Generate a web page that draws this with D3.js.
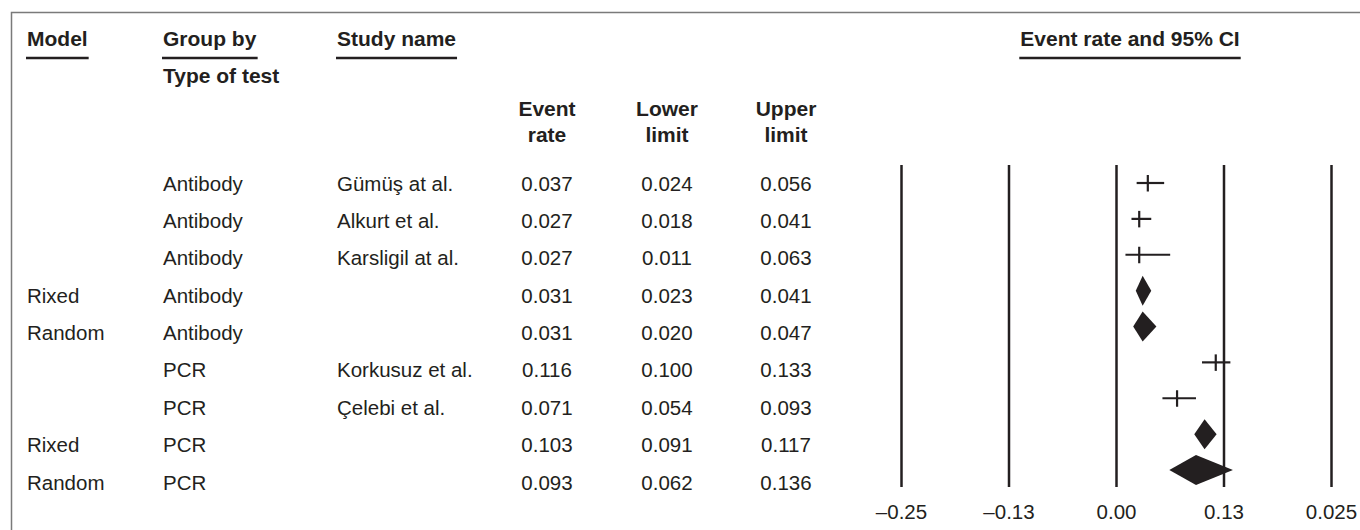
<!DOCTYPE html>
<html>
<head>
<meta charset="utf-8">
<script src="https://cdn.jsdelivr.net/npm/d3@7"></script>
<style>
  body { margin: 0; background: #fff; }
  text { font-family: "Liberation Sans", Arial, Helvetica, sans-serif; fill: #231f20; }
</style>
</head>
<body>
<div id="chart"></div>
<script>
// table rows, top to bottom
const models = ['', '', '', 'Rixed', 'Random', '', '', 'Rixed', 'Random'];
const testTypes = ['Antibody', 'Antibody', 'Antibody', 'Antibody', 'Antibody', 'PCR', 'PCR', 'PCR', 'PCR'];
const studyNames = ['Gümüş at al.', 'Alkurt et al.', 'Karsligil at al.', '', '', 'Korkusuz et al.', 'Çelebi et al.', '', ''];
const eventRates = [0.037, 0.027, 0.027, 0.031, 0.031, 0.116, 0.071, 0.103, 0.093];
const lowerLimits = [0.024, 0.018, 0.011, 0.023, 0.020, 0.100, 0.054, 0.091, 0.062];
const upperLimits = [0.056, 0.041, 0.063, 0.041, 0.047, 0.133, 0.093, 0.117, 0.136];

// axis
const tickValues = [-0.25, -0.125, 0, 0.125, 0.25];
const tickLabels = ['\u20130.25', '\u20130.13', '0.00', '0.13', '0.025'];

const width = 1360, height = 530;
const fs = 20.5, fsBold = 21;
const ink = '#231f20';

const svg = d3.select('#chart').append('svg')
  .attr('width', width)
  .attr('height', height);

// frame (top + left edge)
svg.append('path')
  .attr('d', 'M11.5,530 V12.5 H1360')
  .attr('fill', 'none')
  .attr('stroke', '#7a7a7a')
  .attr('stroke-width', 1.5);

const rows = d3.range(eventRates.length);
const yText = d3.scalePoint().domain(rows).range([183, 482]);
const yMark = d3.scalePoint().domain(rows).range([183, 470]);
const x = d3.scaleLinear().domain([-0.25, 0.25]).range([901, 1331]);
const fmt = d3.format('.3f');

// underlined column headers
const headers = [
  { text: 'Model', x: 27, anchor: 'start' },
  { text: 'Group by', x: 163, anchor: 'start' },
  { text: 'Study name', x: 337, anchor: 'start' },
  { text: 'Event rate and 95% CI', x: 1130, anchor: 'middle' }
];
headers.forEach(h => {
  const t = svg.append('text')
    .attr('x', h.x)
    .attr('y', 46)
    .attr('text-anchor', h.anchor)
    .attr('font-size', fsBold)
    .attr('font-weight', 'bold')
    .text(h.text);
  const bb = t.node().getBBox();
  svg.append('line')
    .attr('x1', bb.x - 1).attr('x2', bb.x + bb.width + 1)
    .attr('y1', 58).attr('y2', 58)
    .attr('stroke', ink).attr('stroke-width', 2.5);
});

svg.append('text')
  .attr('x', 163).attr('y', 83)
  .attr('font-size', fsBold).attr('font-weight', 'bold')
  .text('Type of test');

const numCols = [
  { x: 547, lines: ['Event', 'rate'], values: eventRates },
  { x: 667, lines: ['Lower', 'limit'], values: lowerLimits },
  { x: 786, lines: ['Upper', 'limit'], values: upperLimits }
];
numCols.forEach(c => {
  c.lines.forEach((l, i) => {
    svg.append('text')
      .attr('x', c.x).attr('y', 116 + i * 26)
      .attr('text-anchor', 'middle')
      .attr('font-size', fsBold).attr('font-weight', 'bold')
      .text(l);
  });
  svg.append('g').selectAll('text')
    .data(rows)
    .enter().append('text')
    .attr('x', c.x)
    .attr('y', d => yText(d) + 7.5)
    .attr('text-anchor', 'middle')
    .attr('font-size', fs)
    .text(d => fmt(c.values[d]));
});

const textCols = [
  { x: 27, values: models },
  { x: 163, values: testTypes },
  { x: 337, values: studyNames }
];
textCols.forEach(c => {
  svg.append('g').selectAll('text')
    .data(rows)
    .enter().append('text')
    .attr('x', c.x)
    .attr('y', d => yText(d) + 7.5)
    .attr('font-size', fs)
    .text(d => c.values[d]);
});

// vertical reference lines + labels
const axis = d3.axisBottom(x)
  .tickValues(tickValues)
  .tickFormat((d, i) => tickLabels[i])
  .tickSize(-(487 - 165))
  .tickPadding(17.5);

const ax = svg.append('g')
  .attr('transform', 'translate(0,487)')
  .call(axis);
ax.select('.domain').remove();
ax.selectAll('.tick line').attr('stroke', ink).attr('stroke-width', 2.5);
ax.selectAll('.tick text')
  .attr('font-size', fs)
  .attr('font-family', '"Liberation Sans", Arial, Helvetica, sans-serif')
  .attr('fill', ink);

// study estimates: CI line + tick at point
const marks = svg.append('g');
const studies = rows.filter(d => models[d] === '');
const summaries = rows.filter(d => models[d] !== '');

const cross = marks.selectAll('g.study')
  .data(studies)
  .enter().append('g')
  .attr('class', 'study');
cross.append('line')
  .attr('x1', d => x(lowerLimits[d]))
  .attr('x2', d => x(upperLimits[d]))
  .attr('y1', d => yMark(d)).attr('y2', d => yMark(d))
  .attr('stroke', ink).attr('stroke-width', 2.2);
cross.append('line')
  .attr('x1', d => x(eventRates[d]))
  .attr('x2', d => x(eventRates[d]))
  .attr('y1', d => yMark(d) - 8).attr('y2', d => yMark(d) + 8.5)
  .attr('stroke', ink).attr('stroke-width', 2.2);

// pooled estimates as diamonds
marks.selectAll('path.pooled')
  .data(summaries)
  .enter().append('path')
  .attr('class', 'pooled')
  .attr('d', d => {
    const y = yMark(d), h = 15;
    return `M${x(lowerLimits[d])},${y} L${x(eventRates[d])},${y - h} L${x(upperLimits[d])},${y} L${x(eventRates[d])},${y + h} Z`;
  })
  .attr('fill', ink);
</script>
</body>
</html>
